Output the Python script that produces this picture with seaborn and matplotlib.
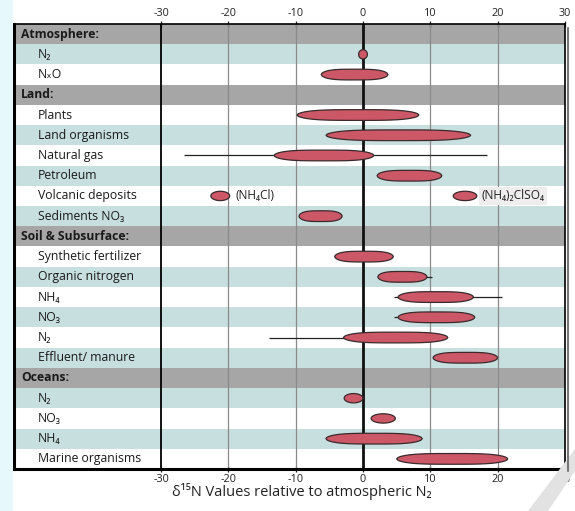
import numpy as np
import matplotlib
matplotlib.use("Agg")
import matplotlib.pyplot as plt
import seaborn as sns
from matplotlib.patches import Polygon, Rectangle

# ---------------- data ----------------
row_labels = ["Atmosphere:", "N₂", "NₓO",
              "Land:", "Plants", "Land organisms", "Natural gas", "Petroleum",
              "Volcanic deposits", "Sediments NO₃",
              "Soil & Subsurface:", "Synthetic fertilizer", "Organic nitrogen",
              "NH₄", "NO₃", "N₂", "Effluent/ manure",
              "Oceans:", "N₂", "NO₃", "NH₄", "Marine organisms"]
row_is_header = [1, 0, 0, 1, 0, 0, 0, 0, 0, 0, 1, 0, 0, 0, 0, 0, 0, 1, 0, 0, 0, 0]
row_shade = ["h", "t", "w", "h", "w", "t", "w", "t", "w", "t",
             "h", "w", "t", "w", "t", "w", "t", "h", "t", "w", "t", "w"]

range_rows = [1, 2, 4, 5, 6, 7, 8, 8, 9, 11, 12, 13, 14, 15, 16, 18, 19, 20, 21]
range_lo = [-0.65, -6.2, -9.8, -5.5, -13.2, 2.1, -22.6, 13.4, -9.5, -4.2,
            2.2, 5.2, 5.2, -2.9, 10.4, -2.8, 1.2, -5.5, 5.0]
range_hi = [0.65, 3.7, 8.3, 16.0, 1.6, 11.7, -19.8, 16.9, -3.1, 4.5,
            9.5, 16.4, 16.6, 12.6, 20.0, 0.0, 4.8, 8.8, 21.5]

whisk_rows = [6, 12, 13, 14, 15]
whisk_lo = [-26.6, 9.0, 4.6, 4.6, -14.0]
whisk_hi = [18.4, 10.3, 20.7, 6.0, 0.0]

ann_text = ["(NH₄Cl)", "(NH₄)₂ClSO₄"]
ann_x = [-18.9, 17.6]
ann_row = [8, 8]

x_ticks = [-30, -20, -10, 0, 10, 20, 30]
x_label = "δ¹⁵N Values relative to atmospheric N₂"

# ---------------- style ----------------
sns.set_style("white")
FAM = ["Open Sans", "DejaVu Sans"]
plt.rcParams["font.family"] = FAM

shade_col = {"h": "#a6a6a6", "t": "#c8dfdf", "w": "#ffffff"}
bar_face = "#cc5766"
bar_edge = "#3a2a2c"

W, H = 575, 511
fig = plt.figure(figsize=(W / 100, H / 100), dpi=100)
fig.patch.set_facecolor("white")

# faint cyan strip on the left edge
fig.patches.append(Rectangle((0, 0), 13 / W, 1, transform=fig.transFigure,
                             facecolor="#e6f8fc", edgecolor="none", zorder=0))
# faint grey diagonal band at bottom-right
fig.patches.append(Polygon([(528 / W, 0), (548 / W, 0), (1, 40 / H), (1, 62 / H)],
                           closed=True, transform=fig.transFigure,
                           facecolor="#e2e2e2", edgecolor="none", zorder=0))

left_px, right_px, top_px, bot_px = 14, 565, 24, 469
ax = fig.add_axes([left_px / W, 1 - bot_px / H, (right_px - left_px) / W,
                   (bot_px - top_px) / H])
ppu = 404 / 60
xmin = -30 - (161 - left_px) / ppu
ax.set_xlim(xmin, 30)
n = len(row_labels)
ax.set_ylim(n - 0.5, -0.5)

# row backgrounds
for i, s in enumerate(row_shade):
    ax.axhspan(i - 0.5, i + 0.5, color=shade_col[s], lw=0, zorder=0)

# grid lines
for t in x_ticks:
    if t == -30:
        ax.axvline(t, color="black", lw=1.3, zorder=1)
    elif t == 0:
        ax.axvline(t, color="#111111", lw=2.0, zorder=1)
    elif t != 30:
        ax.axvline(t, color="#8a8a8a", lw=0.9, zorder=1)

# whiskers
sns.lineplot(ax=ax, legend=False)
for r, lo, hi in zip(whisk_rows, whisk_lo, whisk_hi):
    ax.hlines(r, lo, hi, color="#222222", lw=0.9, zorder=2)


def lens(lo, hi, row, half=0.25):
    t = np.linspace(-1, 1, 121)
    c, hw = (lo + hi) / 2, (hi - lo) / 2
    if hi - lo < 5:
        yy = np.sqrt(np.clip(1 - t ** 2, 0, 1))
    else:
        yy = np.clip(1 - np.abs(t) ** 3.5, 0, 1) ** 0.55
    xs = np.concatenate([c + hw * t, c + hw * t[::-1]])
    ys = np.concatenate([row - half * yy, row + half * yy[::-1]])
    return np.column_stack([xs, ys])


for r, lo, hi in zip(range_rows, range_lo, range_hi):
    h = 0.265 if hi - lo > 5 else 0.23
    ax.add_patch(Polygon(lens(lo, hi, r, h), closed=True, facecolor=bar_face,
                         edgecolor=bar_edge, lw=0.9, zorder=3))

# row labels
hx = xmin + (21 - left_px) / ppu
ix = xmin + (38 - left_px) / ppu
for i, (lab, hd) in enumerate(zip(row_labels, row_is_header)):
    if hd:
        ax.text(hx, i, lab, ha="left", va="center", fontsize=8.7,
                fontweight="bold", color="#1a1a1a", family=FAM, zorder=4)
    else:
        ax.text(ix, i, lab, ha="left", va="center", fontsize=8.8,
                color="#1a1a1a", family=FAM, zorder=4)

# annotations
for k, (txt, x, r) in enumerate(zip(ann_text, ann_x, ann_row)):
    kw = {}
    if k == 1:
        kw["bbox"] = dict(boxstyle="square,pad=0.2", facecolor="#eeeeee",
                          edgecolor="none")
    ax.text(x, r, txt, ha="left", va="center", fontsize=8.6,
            color="#222222", family=FAM, zorder=4, **kw)

# axes / ticks
ax.set_xticks(x_ticks)
ax.set_xticklabels([str(t) for t in x_ticks])
ax.set_yticks([])
ax.tick_params(axis="x", top=True, labeltop=True, bottom=True,
               labelbottom=True, direction="inout", length=5, width=0.9,
               labelsize=7.8, pad=1, colors="#222222")
for side, sp in ax.spines.items():
    sp.set_visible(True)
    sp.set_color("black")
    sp.set_linewidth(2.2 if side in ("left", "bottom") else 1.2)
ax.set_xlabel("")

# drop shadow on right edge
fig.add_artist(plt.Line2D([(right_px + 3) / W] * 2,
                          [1 - (bot_px + 2) / H, 1 - (top_px + 4) / H],
                          transform=fig.transFigure, color="#777777", lw=1.5))

fig.text(302 / W, 1 - 492 / H, x_label, ha="center", va="center",
         fontsize=10.5, color="#222222", family=FAM)

fig.savefig("out.png", dpi=100)
